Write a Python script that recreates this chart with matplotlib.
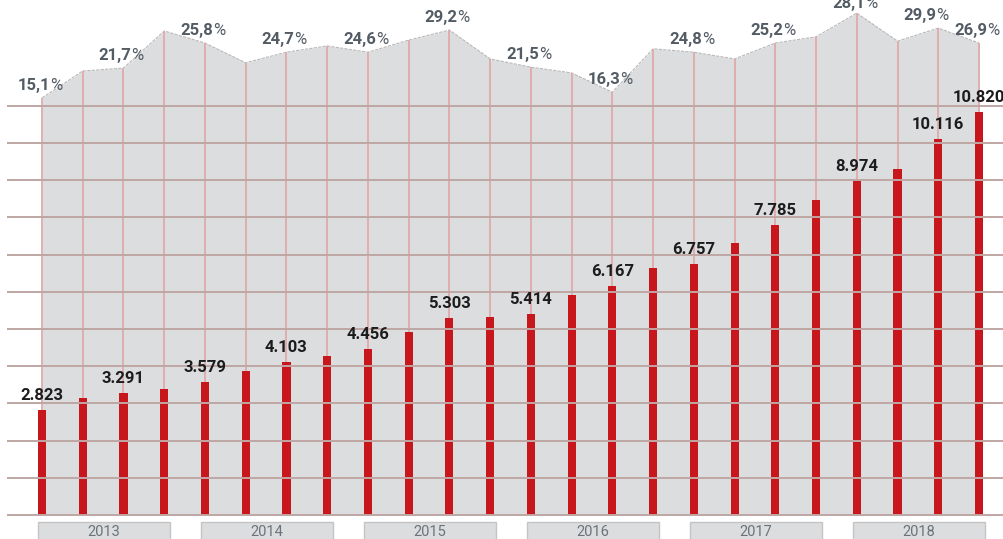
"""Quarterly values (red bars) with the share line as a gray area behind them."""

import matplotlib
matplotlib.use("Agg")
import matplotlib.pyplot as plt
from matplotlib.patches import Rectangle

# --- data ---
quarters = list(range(24))
values = [2823, 3150, 3291, 3390, 3579, 3870, 4103, 4270,
          4456, 4920, 5303, 5310, 5414, 5910, 6167, 6640,
          6757, 7310, 7785, 8470, 8974, 9300, 10116, 10820]
# height of the gray area (share, %), estimated per quarter
share = [15.1, 20.7, 21.3, 29.0, 26.5, 22.4, 24.6, 25.9,
         24.6, 27.1, 29.2, 23.2, 21.5, 20.3, 16.3, 25.3,
         24.6, 23.2, 26.5, 27.8, 32.7, 26.9, 29.6, 26.5]
# labelled quarters and their printed shares
label_idx = [0, 2, 4, 6, 8, 10, 12, 14, 16, 18, 20, 22, 23]
share_labels = ["15,1", "21,7", "25,8", "24,7", "24,6", "29,2", "21,5",
                "16,3", "24,8", "25,2", "28,1", "29,9", "26,9"]
value_idx = [0, 2, 4, 6, 8, 10, 12, 14, 16, 18, 20, 22, 23]
years = ["2013", "2014", "2015", "2016", "2017", "2018"]

RED = "#c8161d"
AREA = "#dcdddf"
GRID = "#bfa6a5"
PCT_COL = "#535c65"
FONT = "Roboto"

fig = plt.figure(figsize=(10.04, 5.39), dpi=100)

# x: bar i sits at pixel 42 + i*40.74
xlim = (-42 / 40.74, (1004 - 42) / 40.74)

# back axes: gray area + thin verticals
ax_a = fig.add_axes([0, 0, 1, 1])
ax_a.set_xlim(*xlim)
ax_a.set_ylim(-76.4, 35.43)
ax_a.axis("off")
base_pct = -71.4
ax_a.fill_between(quarters, share, base_pct, color=AREA, lw=0, zorder=1)
ax_a.plot(quarters, share, color="#b8b8b8", lw=0.8, ls=(0, (3, 1)), zorder=2)
ax_a.vlines(quarters, base_pct, share, color="#e2a9aa", lw=1.3, zorder=2)

# front axes: bars, grid, labels
ax = fig.add_axes([0, 0, 1, 1])
ax.patch.set_alpha(0)
ax.set_xlim(*xlim)
ax.set_ylim(-645, 13844)
ax.axis("off")

ax.bar(quarters, values, width=0.2, color=RED, zorder=3)
ax.hlines(range(0, 12000, 1000), -0.86, 23.7, color=GRID, lw=1.4, zorder=4)

for i in value_idx:
    ax.annotate(f"{values[i]:,}".replace(",", "."), (quarters[i], values[i]),
                xytext=(0, 7), textcoords="offset pixels", ha="center", va="bottom",
                fontsize=12, fontweight="bold", color="#1c1c1c", family=FONT, zorder=6)

for i, lab in zip(label_idx, share_labels):
    dx = -10 if i == 22 else 0
    dy = 2 if i == 20 else 5
    ax_a.annotate(lab, (quarters[i], share[i]), xytext=(dx + 8, dy), textcoords="offset pixels",
                  ha="right", va="bottom", fontsize=12, fontweight="bold",
                  color=PCT_COL, family=FONT, zorder=6)
    ax_a.annotate("%", (quarters[i], share[i]), xytext=(dx + 8, dy), textcoords="offset pixels",
                  ha="left", va="bottom", fontsize=12, color=PCT_COL, family=FONT, zorder=6)

# year boxes under the axis
for k, yr in enumerate(years):
    x0 = quarters[4 * k] - 0.1
    x1 = quarters[4 * k + 3] + 0.15
    ax.add_patch(Rectangle((x0, -900), x1 - x0, 900 - 180, facecolor=AREA,
                           edgecolor="#c4c4c4", lw=1, zorder=3, clip_on=False))
    ax.text((x0 + x1) / 2, -460, yr, ha="center", va="center", fontsize=10.5,
            color="#6b737a", family=FONT, zorder=4)

fig.savefig("out.png", dpi=100)
